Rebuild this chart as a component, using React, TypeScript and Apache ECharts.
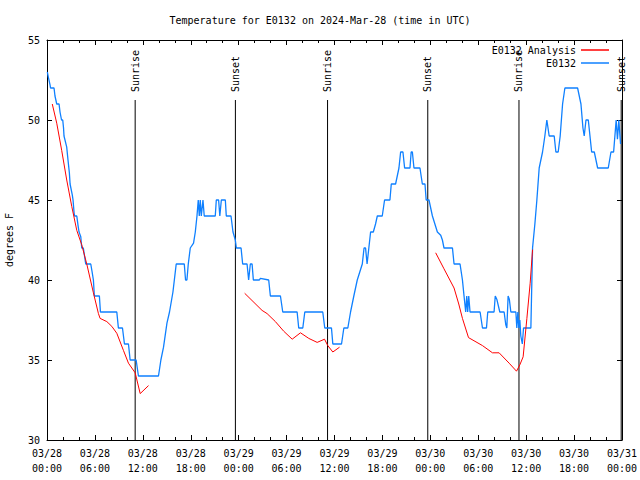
import React, { useEffect, useRef } from "react";
import * as echarts from "echarts";

// Hours since 2024-03-28 00:00 UTC
const obsHours = [
  0.04, 0.16, 0.38, 0.44, 0.88, 1.0, 1.22, 1.51, 1.63, 1.82, 1.97, 2.07, 2.13, 2.47, 2.63, 2.8, 2.89, 2.97,
  3.17, 3.26, 3.39, 3.45, 3.73, 3.89, 4.01, 4.23, 4.35, 4.55, 4.85, 5.48, 5.65, 5.81, 5.93, 6.56, 6.69,
  8.74, 8.94, 9.45, 9.7, 10.2, 10.41, 11.16, 11.45, 13.96, 14.26, 14.59, 15.02, 15.34, 15.77, 16.18,
  17.19, 17.35, 17.52, 17.69, 17.94, 18.35, 18.57, 18.78, 18.94, 19.07, 19.19, 19.32, 19.53, 19.69,
  21.07, 21.2, 21.49, 21.64, 21.83, 22.33, 22.45, 23.04, 23.29, 23.58, 23.71, 24.3, 24.5, 25.05, 25.25,
  25.46, 25.68, 25.84, 26.0, 26.59, 26.72, 27.76, 27.97, 29.23, 29.52, 31.32, 31.52, 32.03, 32.28,
  34.53, 34.78, 35.62, 35.79, 36.88, 37.17, 37.67, 38.01, 38.42, 38.85, 39.48, 39.7, 39.89, 40.08,
  40.3, 40.52, 40.86, 41.14, 41.36, 41.98, 42.27, 42.94, 43.11, 43.65, 44.07, 44.28, 44.57, 44.78,
  45.45, 45.6, 45.75, 45.95, 46.7, 47.0, 47.33, 47.48, 47.83, 48.26, 48.88, 49.3, 49.51, 49.71, 50.77,
  50.97, 51.72, 52.02, 52.22, 52.43, 52.56, 52.68, 52.81, 52.97, 54.23, 54.53, 55.03, 55.19, 55.98,
  56.13, 56.32, 56.7, 57.24, 57.45, 57.58, 57.74, 57.89, 58.08, 58.71, 58.83, 58.96, 59.08, 59.21,
  59.33, 59.52, 59.67, 60.59, 60.8, 61.09, 61.34, 61.63, 62.05, 62.34, 62.59, 62.88, 63.51, 63.72,
  64.01, 64.26, 64.56, 64.85, 66.44, 66.86, 67.11, 67.27, 67.49, 67.78, 68.2, 68.53, 68.95, 70.28,
  70.62, 70.95, 71.27, 71.43, 71.6, 71.82,
];
const obsTemps = [
  53, 52.7, 52.2, 52, 52, 51.5, 51, 51, 50.5, 50, 50, 49.5, 49, 48.3, 47.5, 46.7, 46, 46,
  45.3, 45, 44.2, 44, 44, 43.4, 43, 42.7, 42, 42, 41, 41, 40.5, 40, 39, 39, 38,
  38, 37, 37, 36, 36, 35, 35, 34, 34, 35, 35.8, 37.3, 38, 39.25, 41,
  41, 40, 40, 41, 42, 42.3, 43, 44, 45, 44, 45, 44, 45, 44,
  44, 45, 45, 44, 45, 45, 44, 44, 43, 42.5, 42, 42, 41, 41, 40,
  41, 41, 40, 40, 40, 40.1, 40, 39, 39, 38, 38, 37, 37, 38,
  38, 37, 37, 36, 36, 37, 37, 38, 39, 40, 41, 42, 42, 41,
  42, 43, 43, 43.5, 44, 44, 45, 45, 46, 46, 47, 48, 48, 47,
  47, 48, 48, 47, 47, 46, 46, 45, 45, 44, 43, 42.8, 42.5, 42, 42,
  41, 41, 40, 39, 38, 39, 38, 39, 38, 38, 37, 37, 38, 38,
  39, 38.8, 38, 38, 37.2, 37, 39, 38.8, 38, 38, 37, 38, 37,
  37.5, 36.5, 36, 37, 37, 42, 43.5, 45, 47, 48, 49, 50, 49, 49,
  48, 48, 49, 51, 52, 52, 51, 49.5, 49, 50, 50, 48, 48, 47, 47,
  48, 48, 50, 48.8, 50, 48.5,
];

const anaHours = [
  0.66, 1.22, 1.84, 2.47, 3.1, 3.73, 4.35, 4.98, 5.81, 6.44, 6.65, 7.49, 8.12, 8.74, 9.57, 10.2, 11.04, 11.67, 12.71,
  null,
  24.75, 26.93, 27.56, 28.6, 29.64, 30.7, 31.74, 32.78, 33.83, 34.75, 35.16, 35.79, 36.63,
  null,
  48.67, 49.71, 50.97, 51.56, 52.02, 52.78, 54.53, 55.78, 56.61, 57.87, 58.79, 59.21, 59.62, 60.09, 60.5, 60.8,
];
const anaTemps = [
  51.0, 49.8, 48.1, 46.25, 44.6, 43.1, 42.2, 41.0, 39.2, 37.9, 37.6, 37.4, 37.1, 36.67, 35.6, 34.8, 34.2, 32.9, 33.4,
  null,
  39.17, 38.1, 37.9, 37.4, 36.8, 36.3, 36.7, 36.35, 36.1, 36.3, 35.9, 35.5, 35.8,
  null,
  41.7, 40.7, 39.5, 38.5, 37.6, 36.4, 35.9, 35.45, 35.45, 34.8, 34.3, 34.7, 35.2, 37.6, 39.8, 41.9,
];

const sunHours = [11.04, 23.59, 35.13, 47.68, 59.1, 71.9];
const sunLabels = ["Sunrise", "Sunset", "Sunrise", "Sunset", "Sunrise", "Sunset"];
const sunLineTop = 51.25;

const yMin = 30;
const yMax = 55;
const xMax = 72;

const FONT = "DejaVu Sans Mono, Liberation Mono, monospace";

function fmtX(v: number): string {
  const day = 28 + Math.floor(v / 24);
  const hh = Math.round(v % 24);
  return "03/" + String(day) + "\n" + String(hh).padStart(2, "0") + ":00";
}

export default function App() {
  const ref = useRef<HTMLDivElement>(null);
  useEffect(() => {
    if (!ref.current) return;
    const chart = echarts.init(ref.current, null, { renderer: "svg" });
    const obs = obsHours.map((h, i) => [h, obsTemps[i]]);
    const ana = anaHours.map((h, i) => (h === null ? [null, null] : [h, anaTemps[i]]));
    const sun = sunHours.map((h) => [h, yMin]);

    const baseX = {
      type: "value",
      min: 0,
      max: xMax,
      interval: 6,
      axisLine: { show: true, onZero: false, lineStyle: { color: "#000", width: 1 } },
      axisTick: { show: true, inside: true, length: 5, lineStyle: { color: "#000" } },
      minorTick: { show: true, splitNumber: 3, length: 3, lineStyle: { color: "#000" } },
      splitLine: { show: false },
    };
    const baseY = {
      type: "value",
      min: yMin,
      max: yMax,
      interval: 5,
      axisLine: { show: true, onZero: false, lineStyle: { color: "#000", width: 1 } },
      axisTick: { show: true, inside: true, length: 5, lineStyle: { color: "#000" } },
      splitLine: { show: false },
    };

    chart.setOption({
      animation: false,
      backgroundColor: "#fff",
      title: {
        text: "Temperature for E0132 on 2024-Mar-28 (time in UTC)",
        left: "center",
        top: 10,
        textStyle: { fontFamily: FONT, fontSize: 10, fontWeight: "normal", color: "#000" },
      },
      legend: {
        data: ["E0132 Analysis", "E0132"],
        orient: "vertical",
        right: 31,
        top: 44,
        padding: 0,
        itemGap: 1,
        itemWidth: 28,
        itemHeight: 1.5,
        icon: "rect",
        align: "right",
        textStyle: { fontFamily: FONT, fontSize: 10, color: "#000", lineHeight: 12 },
      },
      grid: { left: 47, right: 18, top: 40, bottom: 40, outerBoundsMode: "none", containLabel: false },
      xAxis: [
        {
          ...baseX,
          position: "bottom",
          axisLabel: {
            formatter: fmtX,
            fontFamily: FONT,
            fontSize: 10,
            color: "#000",
            lineHeight: 15,
            margin: 6,
          },
        },
        { ...baseX, position: "top", axisLabel: { show: false } },
      ],
      yAxis: [
        {
          ...baseY,
          position: "left",
          name: "degrees F",
          nameLocation: "middle",
          nameGap: 33,
          nameTextStyle: { fontFamily: FONT, fontSize: 10, color: "#000" },
          axisLabel: { fontFamily: FONT, fontSize: 10, color: "#000", margin: 7 },
        },
        { ...baseY, position: "right", axisLabel: { show: false } },
      ],
      series: [
        {
          type: "custom",
          name: "sun",
          data: sun,
          silent: true,
          clip: false,
          renderItem: (params: any, api: any) => {
            const t = api.value(0);
            const p0 = api.coord([t, yMin]);
            const p1 = api.coord([t, sunLineTop]);
            return {
              type: "group",
              children: [
                {
                  type: "line",
                  shape: { x1: p0[0], y1: p0[1], x2: p1[0], y2: p1[1] },
                  style: { stroke: "#000", lineWidth: 1 },
                },
                {
                  type: "text",
                  x: p1[0],
                  y: p1[1] - 8,
                  rotation: Math.PI / 2,
                  style: {
                    text: sunLabels[params.dataIndex],
                    align: "left",
                    verticalAlign: "middle",
                    fontFamily: FONT,
                    fontSize: 10,
                    fill: "#000",
                  },
                },
              ],
            };
          },
        },
        {
          type: "line",
          name: "E0132 Analysis",
          data: ana,
          showSymbol: false,
          symbol: "none",
          connectNulls: false,
          lineStyle: { color: "#ff0000", width: 1 },
          itemStyle: { color: "#ff0000" },
          z: 3,
        },
        {
          type: "line",
          name: "E0132",
          data: obs,
          showSymbol: false,
          symbol: "none",
          lineStyle: { color: "#0f80ff", width: 1.3 },
          itemStyle: { color: "#0f80ff" },
          z: 2,
        },
      ],
    });
    return () => chart.dispose();
  }, []);
  return <div ref={ref} style={{ width: 640, height: 480, position: "absolute", left: 0, top: 0 }} />;
}
